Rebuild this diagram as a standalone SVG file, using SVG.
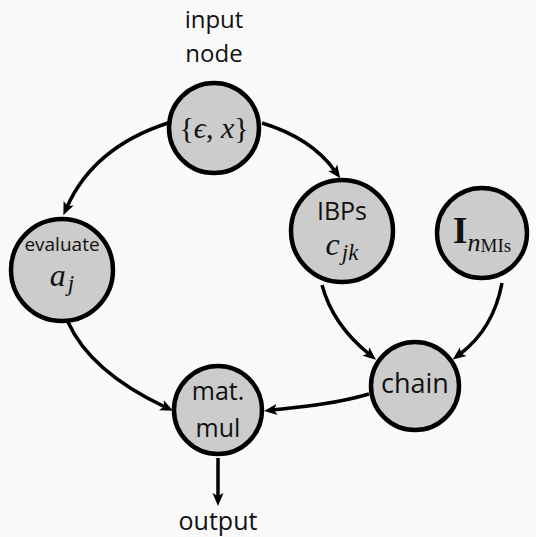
<svg xmlns="http://www.w3.org/2000/svg" width="536" height="537" viewBox="0 0 536 537">
<style>
.bg{fill:#fafafa}
.node{fill:#cccccc;stroke:#000;stroke-width:4.5}
.edge{fill:none;stroke:#000;stroke-width:3.5;marker-end:url(#arr)}
.lbl{font-family:"Open Sans","DejaVu Sans",sans-serif;fill:#111;text-anchor:middle}
.math{font-family:"Liberation Serif","DejaVu Serif",serif;fill:#111}
</style>
<defs>
<marker id="arr" markerUnits="userSpaceOnUse" markerWidth="16" markerHeight="14" viewBox="-6 -7 16 14" refX="0" refY="0" orient="auto">
<path d="M9,0 L-4,-5.5 L-1,0 L-4,5.5 Z" fill="#000"/>
</marker>
</defs>
<rect class="bg" x="0" y="0" width="536" height="537"/>
<g id="connectors">
<path class="edge" d="M168,123 C128,136 88,160 67,207"/>
<path class="edge" d="M262,123 C295,133 320,150 335,171"/>
<path class="edge" d="M68,322 C85,360 125,388 165,407"/>
<path class="edge" d="M322,285 C330,315 348,337 369,354"/>
<path class="edge" d="M502,283 C496,315 480,339 460,354"/>
<path class="edge" d="M369,394 C335,404 300,407 273,410"/>
<path class="edge" d="M218,458 L218,497"/>
</g>
<g id="input-label">
<text class="lbl" x="214" y="28" font-size="24">input</text>
<text class="lbl" x="214" y="62" font-size="24">node</text>
</g>
<g id="input">
<circle class="node" cx="214" cy="128" r="45"/>
<text class="math" x="214" y="138" font-size="30" text-anchor="middle">{<tspan font-style="italic">ϵ</tspan>, <tspan font-style="italic">x</tspan>}</text>
</g>
<g id="ibps">
<circle class="node" cx="342" cy="231" r="51"/>
<text class="lbl" x="342" y="220" font-size="25">IBPs</text>
<text class="math" x="342" y="255" font-size="32" text-anchor="middle" font-style="italic">c<tspan font-size="23" dx="2" dy="5">jk</tspan></text>
</g>
<g id="identity">
<circle class="node" cx="482" cy="233" r="45"/>
<text class="math" x="482" y="243" font-size="38" text-anchor="middle"><tspan font-weight="bold">I</tspan><tspan font-size="26" font-style="italic" dy="8">n</tspan><tspan font-size="19" dy="1">MIs</tspan></text>
</g>
<g id="evaluate">
<circle class="node" cx="62" cy="270" r="51"/>
<text class="lbl" x="62" y="251" font-size="19">evaluate</text>
<text class="math" x="62" y="286" font-size="32" text-anchor="middle" font-style="italic">a<tspan font-size="23" dx="2" dy="5">j</tspan></text>
</g>
<g id="chain">
<circle class="node" cx="415" cy="386" r="44"/>
<text class="lbl" x="415" y="393" font-size="27">chain</text>
</g>
<g id="matmul">
<circle class="node" cx="218" cy="410" r="44"/>
<text class="lbl" x="218" y="400" font-size="25">mat.</text>
<text class="lbl" x="218" y="437" font-size="25">mul</text>
</g>
<g id="output-label">
<text class="lbl" x="218" y="530" font-size="25">output</text>
</g>
</svg>
